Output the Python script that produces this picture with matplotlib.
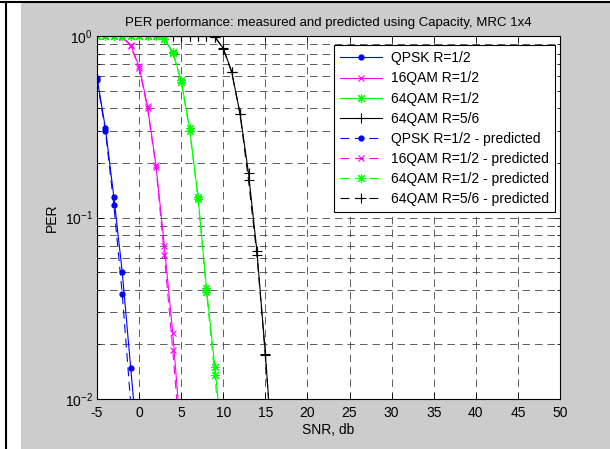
import numpy as np
import matplotlib
matplotlib.use('Agg')
import matplotlib.pyplot as plt
from matplotlib.lines import Line2D
from matplotlib.patches import Rectangle
from matplotlib.ticker import LogLocator, NullFormatter

plt.rcParams['font.family'] = ['Liberation Sans', 'DejaVu Sans']
plt.rcParams['mathtext.fontset'] = 'custom'
plt.rcParams['mathtext.rm'] = 'Liberation Sans'
plt.rcParams['mathtext.it'] = 'Liberation Sans'
plt.rcParams['axes.unicode_minus'] = False

# PER vs SNR, measured and predicted from capacity
snr_qpsk = [-5, -4, -3, -2, -1, 0]
per_qpsk = [0.59, 0.31, 0.13, 0.050, 0.0149, 0.0045]
per_qpsk_pred = [0.57, 0.30, 0.117, 0.038, 0.0095, 0.002]

snr_16qam = [-5, -4, -3, -2, -1, 0, 1, 2, 3, 4, 5]
per_16qam = [1.0, 1.0, 1.0, 0.99, 0.89, 0.68, 0.41, 0.195, 0.070, 0.023, 0.006]
per_16qam_pred = [1.0, 1.0, 1.0, 0.99, 0.88, 0.67, 0.40, 0.19, 0.062, 0.0186, 0.005]

snr_64qam12 = [-5, -4, -3, -2, -1, 0, 1, 2, 3, 4, 5, 6, 7, 8, 9, 10]
per_64qam12 = [1.0, 1.0, 1.0, 1.0, 1.0, 1.0, 1.0, 1.0, 0.96, 0.82, 0.57, 0.31,
               0.130, 0.041, 0.0151, 0.005]
per_64qam12_pred = [1.0, 1.0, 1.0, 1.0, 1.0, 1.0, 1.0, 1.0, 0.96, 0.81, 0.56, 0.30,
                    0.127, 0.039, 0.0135, 0.004]

snr_64qam56 = [4, 5, 6, 7, 8, 9, 10, 11, 12, 13, 14, 15, 16]
per_64qam56 = [1.0, 1.0, 1.0, 1.0, 1.0, 0.99, 0.855, 0.636, 0.372, 0.175, 0.065, 0.0177, 0.004]
per_64qam56_pred = [1.0, 1.0, 1.0, 1.0, 1.0, 0.99, 0.85, 0.63, 0.37, 0.16, 0.062, 0.0175, 0.004]

gray = '#cccccc'
fs = 10
fig = plt.figure(figsize=(6.1, 4.49), dpi=100, facecolor='white')
fig.add_artist(Rectangle((21 / 610, 0), 1, 1 - 3 / 449, transform=fig.transFigure,
                         facecolor=gray, edgecolor='none', zorder=-10))
fig.add_artist(Line2D([1 / 610, 1], [1 - 2 / 449, 1 - 2 / 449], transform=fig.transFigure,
                      color='black', lw=1.5))
fig.add_artist(Line2D([6 / 610, 6 / 610], [0, 1 - 2 / 449], transform=fig.transFigure,
                      color='black', lw=1.5))

ax = fig.add_axes([97 / 610, 1 - 399 / 449, 463 / 610, 363 / 449])
ax.set_facecolor('white')

lw = 0.8
star = (8, 2, 0)  # asterisk made of lines
ax.plot(snr_qpsk, per_qpsk, '-', color='blue', marker='o', ms=3.5, lw=lw, label='QPSK R=1/2')
ax.plot(snr_16qam, per_16qam, '-', color='magenta', marker='x', ms=4, mew=0.8, lw=lw, label='16QAM R=1/2')
ax.plot(snr_64qam12, per_64qam12, '-', color='lime', marker=star, ms=6.5, mew=0.8, lw=lw, label='64QAM R=1/2')
ax.plot(snr_64qam56, per_64qam56, '-', color='black', marker='+', ms=7, mew=0.8, lw=lw, label='64QAM R=5/6')
ax.plot(snr_qpsk, per_qpsk_pred, '--', color='blue', marker='o', ms=3.5, lw=lw,
        dashes=(8, 5), label='QPSK R=1/2 - predicted')
ax.plot(snr_16qam, per_16qam_pred, '--', color='magenta', marker='x', ms=4, mew=0.8, lw=lw,
        dashes=(8, 5), label='16QAM R=1/2 - predicted')
ax.plot(snr_64qam12, per_64qam12_pred, '--', color='lime', marker=star, ms=6.5, mew=0.8, lw=lw,
        dashes=(8, 5), label='64QAM R=1/2 - predicted')
ax.plot(snr_64qam56, per_64qam56_pred, '--', color='black', marker='+', ms=7, mew=0.8, lw=lw,
        dashes=(8, 5), label='64QAM R=5/6 - predicted')

ax.set_yscale('log')
ax.set_xlim(-5, 50)
ax.set_ylim(1e-2, 1)
ax.set_xticks(np.arange(-5, 51, 5))
ax.yaxis.set_major_locator(LogLocator(base=10, numticks=5))
ax.yaxis.set_minor_locator(LogLocator(base=10, subs=np.arange(2, 10), numticks=20))
ax.yaxis.set_minor_formatter(NullFormatter())

ax.tick_params(which='both', direction='in', top=True, right=True, labelsize=fs, width=0.6)
ax.tick_params(which='major', length=4)
ax.tick_params(which='minor', length=2)
ax.tick_params(axis='x', pad=5)
ax.tick_params(axis='y', pad=3)

grid_kw = dict(color='#444444', lw=0.6, linestyle=(0, (9, 6)))
ax.grid(True, which='major', **grid_kw)
ax.grid(True, which='minor', axis='y', **grid_kw)
for s in ax.spines.values():
    s.set_linewidth(0.8)

ax.set_title('PER performance: measured and predicted using Capacity, MRC 1x4', fontsize=9.5, pad=7)
ax.set_xlabel('SNR, db', fontsize=fs, labelpad=2)
ax.set_ylabel('PER', fontsize=fs, labelpad=4)

leg = ax.legend(loc='upper right', bbox_to_anchor=(0.989, 0.975), borderaxespad=0,
                fontsize=fs, numpoints=1, handlelength=3.0, handletextpad=0.65,
                labelspacing=0.44, fancybox=False, framealpha=1, edgecolor='black',
                borderpad=0.45)
leg.get_frame().set_linewidth(0.8)

fig.savefig('out.png', dpi=100, facecolor=fig.get_facecolor())
